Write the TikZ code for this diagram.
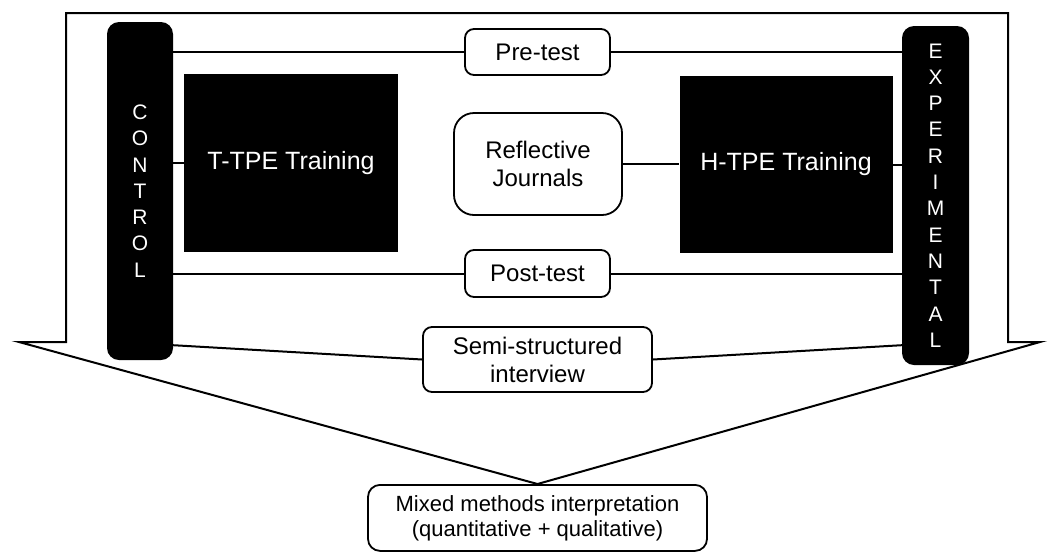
\documentclass[tikz,border=0pt]{standalone}
\usepackage{fontspec}
\setmainfont{Liberation Sans}
\begin{document}
\begin{tikzpicture}[x=1pt,y=-1pt,
  box/.style={draw, fill=white, rounded corners=9pt, line width=1.8pt,
    inner sep=0pt, align=center, font=\fontsize{24}{28}\selectfont},
  dark/.style={fill=black, text=white, inner sep=0pt,
    font=\fontsize{25}{28}\selectfont},
  bar/.style={fill=black, text=white, rounded corners=12pt, inner sep=0pt,
    align=center, font=\fontsize{21}{26.3}\selectfont},
  link/.style={line width=2pt},
  frame/.style={line width=2pt, line join=miter}]
\useasboundingbox (0,0) rectangle (1048,555);

% funnel outline leading down to the interpretation box
\coordinate (apex) at (537.5,484);
\coordinate (ltip) at (19,342);
\coordinate (rtip) at (1040,342);
\draw[frame] (66,13) -- (1008,13) -- (1008,342) -- (rtip) -- (apex)
  -- (ltip) -- (66,342) -- cycle;

% group columns
\node[bar, minimum width=66pt, minimum height=338pt] (ctrl) at (140,191)
  {C\\O\\N\\T\\R\\O\\L};
\node[bar, minimum width=67pt, minimum height=339pt] (exp) at (935.5,195.5)
  {E\\X\\P\\E\\R\\I\\M\\E\\N\\T\\A\\L};

% measures and treatments
\node[box, minimum width=145pt, minimum height=46pt] (pre) at (537.5,52) {Pre-test};
\node[dark, minimum width=214pt, minimum height=178pt] (tt) at (291,163) {T-TPE Training};
\node[dark, minimum width=213pt, minimum height=177pt] (ht) at (786,164.5) {H-TPE Training};
\node[box, rounded corners=20pt, minimum width=168pt, minimum height=102pt] (refl)
  at (538,164) {Reflective\\Journals};
\node[box, minimum width=145pt, minimum height=47pt] (post) at (537.5,273.5) {Post-test};
\node[box, minimum width=229pt, minimum height=65pt] (semi) at (537.5,359.5)
  {Semi-structured\\interview};
\node[box, rounded corners=12pt, minimum width=339pt, minimum height=66pt,
  font=\fontsize{22}{25}\selectfont, anchor=north] (mixed) at (apex)
  {Mixed methods interpretation\\(quantitative + qualitative)};

% connectors
\coordinate (cfoot) at ([yshift=15pt]ctrl.south east);
\coordinate (efoot) at ([yshift=20pt]exp.south west);
\draw[link] (ctrl.east |- pre.west) -- (pre.west);
\draw[link] (pre.east) -- (exp.west |- pre.east);
\draw[link] (ctrl.east |- tt.west) -- (tt.west);
\draw[link] (ht.east) -- (exp.west |- ht.east);
\draw[link] (refl.east) -- (ht.west |- refl.east);
\draw[link] (ctrl.east |- post.west) -- (post.west);
\draw[link] (post.east) -- (exp.west |- post.east);
\draw[link] (cfoot) -- (semi.west);
\draw[link] (semi.east) -- (efoot);
\end{tikzpicture}
\end{document}
